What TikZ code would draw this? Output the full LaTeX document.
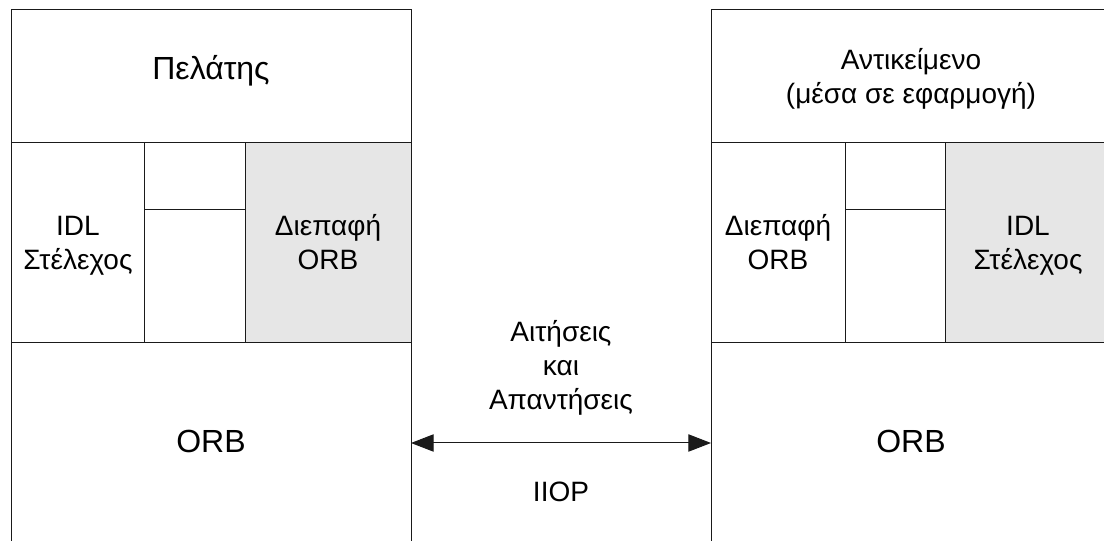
\documentclass[tikz,border=0pt]{standalone}
\usepackage{fontspec}
\setmainfont{Liberation Sans}
\usetikzlibrary{arrows.meta}
\definecolor{panelgrey}{HTML}{E6E6E6}
\definecolor{rulecol}{HTML}{1A1A1A}
\begin{document}
\begin{tikzpicture}[x=0.75pt,y=-0.75pt,
  edge/.style={draw=rulecol,line width=0.75pt},
  biglabel/.style={font=\fontsize{24}{28}\selectfont, inner sep=0pt, anchor=base},
  % multi-line labels are placed by the baseline of their last line
  smalllabel/.style={font=\fontsize{21}{25.5}\selectfont, align=center, inner sep=0pt, anchor=base},
  link/.style={draw=rulecol, line width=0.75pt,
    {Triangle[length=17pt,width=13pt]}-{Triangle[length=17pt,width=13pt]}}
]
\fill[white] (0,0) rectangle (1104,541);
\useasboundingbox (0,0) rectangle (1104,541);

% ---- client side ----
\fill[panelgrey] (245,143) rectangle (411,343);
\draw[edge] (11,545) -- (11,10) -- (411,10) -- (411,545);
\draw[edge] (11,143) -- (411,143);
\draw[edge] (11,343) -- (411,343);
\draw[edge] (144,143) -- (144,343);
\draw[edge] (245,143) -- (245,343);
\draw[edge] (144,210) -- (245,210);

\node[biglabel] (client) at (211,80) {Πελάτης};
\node[smalllabel] (cstub) at (78,270) {IDL\\Στέλεχος};
\node[smalllabel] (corbif) at (328,270) {Διεπαφή\\ORB};
\node[biglabel] (corb) at (211,453) {ORB};

% ---- object side ----
\fill[panelgrey] (945,143) rectangle (1111,343);
\draw[edge] (711,545) -- (711,10) -- (1111,10) -- (1111,545);
\draw[edge] (711,143) -- (1111,143);
\draw[edge] (711,343) -- (1111,343);
\draw[edge] (845,143) -- (845,343);
\draw[edge] (945,143) -- (945,343);
\draw[edge] (845,210) -- (945,210);

\node[smalllabel] (object) at (911,104) {Αντικείμενο\\(μέσα σε εφαρμογή)};
\node[smalllabel] (sorbif) at (778,270) {Διεπαφή\\ORB};
\node[smalllabel] (sstub) at (1028,270) {IDL\\Στέλεχος};
\node[biglabel] (sorb) at (911,453) {ORB};

% ---- link between the two ORBs ----
\coordinate (lport) at (411,443);
\coordinate (rport) at (711,443);
\draw[link] (lport) -- (rport);
\node[smalllabel] (msgs) at (561,410) {Αιτήσεις\\και\\Απαντήσεις};
\node[smalllabel] (proto) at (561,502) {IIOP};
\end{tikzpicture}
\end{document}
